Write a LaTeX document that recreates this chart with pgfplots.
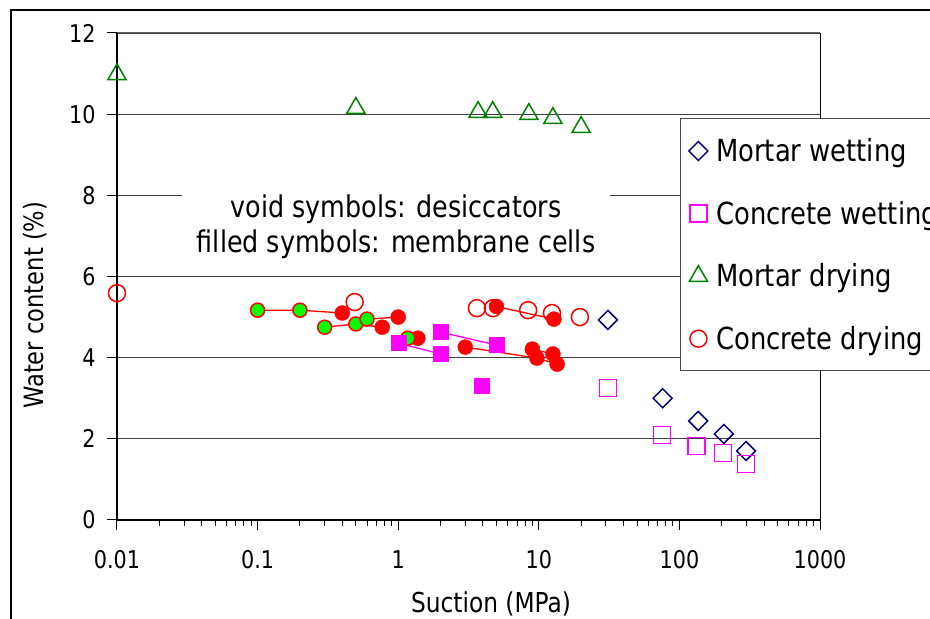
\documentclass[border=0pt]{standalone}
\usepackage{pgfplots}
\pgfplotsset{compat=1.18}
\usepackage{fontspec}
\setmainfont{DejaVu Sans}[FakeStretch=0.85]
\definecolor{navyc}{RGB}{0,0,128}
\definecolor{magc}{RGB}{255,0,255}
\definecolor{greenc}{RGB}{0,128,0}
\definecolor{limec}{RGB}{0,255,0}
\definecolor{redc}{RGB}{255,0,0}
\begin{document}
\begin{tikzpicture}[x=1bp,y=1bp]
\clip (0,0) rectangle (930,619);
\fill[white] (0,0) rectangle (930,619);
\draw[line width=1.2bp] (11,-10) -- (11,609) -- (950,609);
\begin{axis}[
  at={(117bp,99bp)}, anchor=south west,
  width=703bp, height=487bp, scale only axis,
  xmode=log, xmin=0.01, xmax=1000, ymin=0, ymax=12,
  xtick={0.01,0.1,1,10,100,1000},
  xticklabels={0.01,0.1,1,10,100,1000},
  minor xtick={0.02,0.03,0.04,0.05,0.06,0.07,0.08,0.09,0.2,0.3,0.4,0.5,0.6,0.7,0.8,0.9,2,3,4,5,6,7,8,9,20,30,40,50,60,70,80,90,200,300,400,500,600,700,800,900},
  ytick={0,2,4,6,8,10,12},
  yticklabels={0,2,4,6,8,10,12},
  /pgf/number format/assume math mode=true,
  axis x line*=bottom, axis y line*=left,
  axis line style={black, line width=1.5bp},
  tick align=outside,
  major tick length=10bp, minor tick length=6bp,
  tick style={black, line width=1bp},
  ymajorgrids, grid style={black!75, line width=0.9bp},
  tick label style={font=\fontsize{24.5}{28}\selectfont},
  xticklabel style={yshift=-17bp},
  yticklabel style={xshift=-8bp},
  xlabel={Suction (MPa)},
  ylabel={Water content (\%)},
  xlabel style={font=\fontsize{27.5}{32}\selectfont, at={(axis description cs:0.532,-0.172)}, anchor=center},
  ylabel style={font=\fontsize{26.7}{32}\selectfont, at={(axis description cs:-0.117,0.441)}, anchor=center, rotate=0},
  legend style={at={(rel axis cs:0.801,0.825)}, anchor=north west,
    draw=black!70, line width=1bp, fill=white,
    font=\fontsize{30.5}{36}\selectfont, row sep=34bp,
    inner xsep=4bp, inner ysep=18bp},
  legend cell align=left,
  legend image code/.code={\path (0bp,0bp) (28bp,0bp); \draw[mark repeat=2,mark phase=2] plot coordinates {(0bp,0bp)(13bp,0bp)(28bp,0bp)};},
  clip=false,
]
\draw[black!60, line width=1bp] (rel axis cs:0,1) -- (rel axis cs:1,1);
\draw[black, line width=1bp] (rel axis cs:1,1) -- (rel axis cs:1,0);
% desiccators (void)
\addplot[only marks, mark=square, mark size=6.7bp, mark options={rotate=45}, navyc, line width=1.5bp]
  coordinates {(31,4.93)(76,3.0)(136,2.44)(207,2.12)(298,1.70)};
\addlegendentry{Mortar wetting}
\addplot[only marks, mark=square, mark size=8.5bp, magc, line width=1.6bp]
  coordinates {(31,3.25)(75,2.09)(132,1.82)(204,1.65)(297,1.38)};
\addlegendentry{Concrete wetting}
\addplot[only marks, mark=triangle, mark size=10.5bp, greenc, line width=1.5bp]
  coordinates {(0.01,10.98)(0.5,10.15)(3.7,10.05)(4.7,10.05)(8.5,10.0)(12.6,9.9)(20,9.68)};
\addlegendentry{Mortar drying}
\addplot[only marks, mark=o, mark size=8.5bp, redc, line width=1.5bp]
  coordinates {(0.01,5.59)(0.49,5.37)(3.63,5.22)(4.72,5.22)(8.4,5.17)(12.4,5.1)(19.6,5.0)};
\addlegendentry{Concrete drying}
% membrane cells (filled): connecting lines
\addplot[forget plot, redc, line width=1.3bp] coordinates {(0.1,5.17)(0.2,5.17)(0.4,5.1)};
\addplot[forget plot, redc, line width=1.3bp] coordinates {(0.3,4.75)(0.5,4.83)(0.77,4.75)};
\addplot[forget plot, redc, line width=1.3bp] coordinates {(0.6,4.95)(1.0,5.0)};
\addplot[forget plot, redc, line width=1.3bp] coordinates {(1.17,4.48)(1.38,4.48)};
\addplot[forget plot, redc, line width=1.3bp] coordinates {(3,4.26)(9.7,3.99)};
\addplot[forget plot, redc, line width=1.3bp] coordinates {(9,4.21)(12.6,4.09)};
\addplot[forget plot, redc, line width=1.3bp] coordinates {(9.7,3.99)(13.5,3.84)};
\addplot[forget plot, redc, line width=1.3bp] coordinates {(5,5.26)(12.8,4.95)};
\addplot[forget plot, magc, line width=1.3bp] coordinates {(1,4.36)(2,4.09)};
\addplot[forget plot, magc, line width=1.3bp] coordinates {(2,4.63)(5,4.31)};
% filled marks
\addplot[forget plot, only marks, mark=*, mark size=7.5bp, redc, mark options={fill=redc, draw=redc}]
  coordinates {(0.4,5.1)(0.77,4.75)(1.0,5.0)(1.38,4.48)(3,4.26)(9,4.21)(9.7,3.99)(12.6,4.09)(13.5,3.84)(5,5.26)(12.8,4.95)};
\addplot[forget plot, only marks, mark=*, mark size=7bp, mark options={fill=limec, draw=redc, line width=1.5bp}]
  coordinates {(0.1,5.17)(0.2,5.17)(0.3,4.75)(0.5,4.83)(0.6,4.95)(1.17,4.48)};
\addplot[forget plot, only marks, mark=square*, mark size=7.5bp, magc, mark options={fill=magc, draw=magc}]
  coordinates {(1,4.36)(2,4.63)(2,4.09)(5,4.31)(3.9,3.3)};
\node[fill=white, inner sep=0pt, minimum width=428bp, minimum height=84bp, align=center,
      font=\fontsize{30}{36}\selectfont] at (rel axis cs:0.397,0.602)
  {void symbols: desiccators\\filled symbols: membrane cells};
\end{axis}
\end{tikzpicture}
\end{document}
